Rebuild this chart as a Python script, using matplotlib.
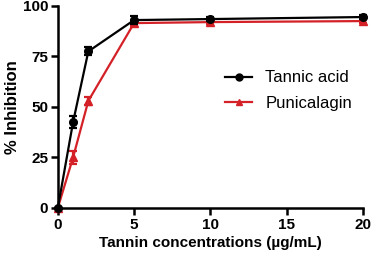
import matplotlib
matplotlib.use("Agg")
import matplotlib.pyplot as plt
from matplotlib.lines import Line2D

conc = [0, 1, 2, 5, 10, 20]
tannic = [0, 42.5, 77.5, 93, 93.5, 94.5]
tannic_err = [0, 3, 2, 2, 1, 1]
punic = [0, 25, 53, 91.5, 92, 92.5]
punic_err = [0, 3, 2, 1.5, 1, 1]
xticks = [0, 5, 10, 15, 20]
yticks = [0, 25, 50, 75, 100]

plt.rcParams['font.family'] = ['Liberation Sans', 'DejaVu Sans']
fig = plt.figure(figsize=(3.73, 2.58), dpi=100)
ax = fig.add_axes([0.155, 0.194, 0.818, 0.783])

red = '#d42027'
ax.errorbar(conc, tannic, yerr=tannic_err, color='black', marker='o', ms=5.5,
            lw=1.6, capsize=3, elinewidth=1.6, capthick=1.6, clip_on=False, zorder=3)
ax.errorbar(conc, punic, yerr=punic_err, color=red, marker='^', ms=5.5,
            lw=1.6, capsize=3, elinewidth=1.6, capthick=1.6, clip_on=False, zorder=2)

ax.set_xlim(0, 20)
ax.set_ylim(0, 100)
ax.set_xticks(xticks)
ax.set_yticks(yticks)
for s in ['top', 'right']:
    ax.spines[s].set_visible(False)
for s in ['left', 'bottom']:
    ax.spines[s].set_linewidth(1.8)
ax.tick_params(width=1.8, length=5, labelsize=11, pad=2)
for lab in ax.get_xticklabels() + ax.get_yticklabels():
    lab.set_fontweight('bold')
ax.set_xlabel('Tannin concentrations (µg/mL)', fontsize=11, fontweight='bold', labelpad=3)
ax.set_ylabel('% Inhibition', fontsize=12, fontweight='bold', labelpad=2)

handles = [Line2D([], [], color='black', marker='o', ms=5, lw=1.6),
           Line2D([], [], color=red, marker='^', ms=5, lw=1.6)]
ax.legend(handles, ['Tannic acid', 'Punicalagin'], frameon=False, fontsize=12,
          loc='upper left', bbox_to_anchor=(0.5, 0.755), handlelength=1.6,
          labelspacing=0.65, handletextpad=0.8)

fig.savefig('out.png', dpi=100)
